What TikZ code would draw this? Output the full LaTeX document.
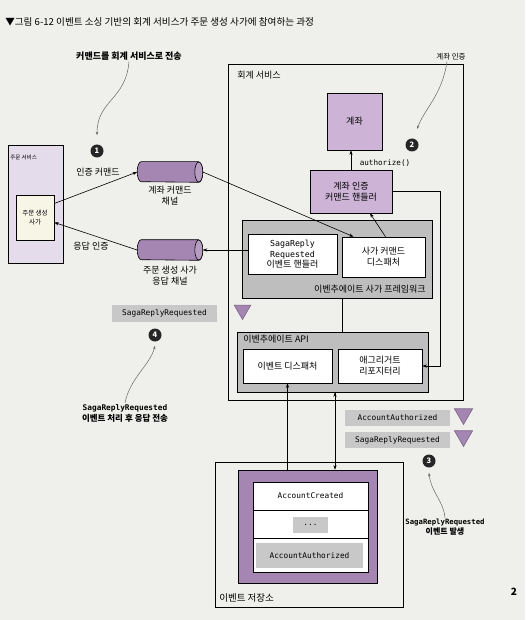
\documentclass[tikz,border=0pt]{standalone}
\usepackage{fontspec}
\setmainfont{Noto Sans CJK KR}
\setmonofont{DejaVu Sans Mono}
\usetikzlibrary{positioning,shapes.geometric,arrows.meta}
\definecolor{pagebg}{HTML}{EFEFEC}
\definecolor{lilac}{HTML}{CDB3D6}
\definecolor{plum}{HTML}{A585B2}
\definecolor{ashgrey}{HTML}{BEBEBE}
\definecolor{taggrey}{HTML}{C8C8C8}
\definecolor{ordfill}{HTML}{E4DCEB}
\definecolor{sagafill}{HTML}{F7F5E6}
\tikzset{box node/.style={rectangle, draw, inner sep=1pt, align=center, font=\fontsize{9}{11}\selectfont},
  purple node/.style={box node, fill=lilac},
  white node/.style={box node, fill=white},
  frame node/.style={rectangle, draw, fill=ashgrey, inner sep=0pt},
  tag node/.style={rectangle, fill=taggrey, inner sep=0pt, font=\ttfamily\fontsize{7.8}{8}\selectfont},
  chan node/.style={rectangle, minimum width=65pt, minimum height=20pt, inner sep=0pt},
  drop node/.style={regular polygon, regular polygon sides=3, shape border rotate=180, fill=plum, draw=plum!75!black, minimum size=21pt, inner sep=0pt},
  num node/.style={circle, fill=black!85, text=white, inner sep=0pt, minimum size=13pt, font=\bfseries\fontsize{7.5}{7.5}\selectfont},
  text node/.style={align=center, inner sep=1pt, font=\fontsize{9}{11}\selectfont},
  call/.style={draw=black!60, line width=0.5pt, -{Stealth[length=3.5pt,width=2.5pt]}},
}
\begin{document}
\begin{tikzpicture}[x=1pt, y=-1pt, ->, >={Stealth[length=4.5pt,width=3.2pt]}, line width=0.6pt]
        \fill[pagebg] (0,0) rectangle (525,620);
        \useasboundingbox (0,0) rectangle (525,620);
        % Title
        \node[anchor=west, inner sep=0pt, font=\fontsize{9.6}{11}\selectfont] (title) at (5,22) {▼그림 6-12 이벤트 소싱 기반의 회계 서비스가 주문 생성 사가에 참여하는 과정};
        % Order service
        \node[rectangle, draw, fill=ordfill, minimum width=55pt, minimum height=118pt] (ordersvc) at (35.5,204) {};
        \node[anchor=west, inner sep=0pt, font=\fontsize{5.5}{6}\selectfont] (ordlbl) at (10,157) {주문 서비스};
        \node[box node, fill=sagafill, minimum width=38pt, minimum height=45pt, font=\fontsize{6.5}{9}\selectfont] (saga) at (35,217.5) {주문 생성\\사가};
        % Channels
        \node[chan node] (cmdch) at (170,172) {};
        \node[text node, below=2pt of cmdch] (cmdlbl) {계좌 커맨드\\채널};
        \node[chan node] (replych) at (170,250) {};
        \node[text node, below=4pt of replych] (replylbl) {주문 생성 사가\\응답 채널};
        \foreach \ch in {cmdch,replych} {
          \draw[-, fill=plum] ([xshift=-4pt]\ch.north east) -- ([xshift=4pt]\ch.north west)
            arc[start angle=90, end angle=270, x radius=4pt, y radius=10pt]
            -- ([xshift=-4pt]\ch.south east)
            arc[start angle=270, end angle=450, x radius=4pt, y radius=10pt] -- cycle;
          \draw[-, fill=plum!80!white] ([xshift=-4pt]\ch.east) ellipse [x radius=4pt, y radius=10pt];
        }
        \node[text node] (authcmd) at (98,172) {인증 커맨드};
        \node[text node] (authreply) at (91,246) {응답 인증};
        % Accounting service
        \node[rectangle, draw, minimum width=235pt, minimum height=336pt] (acct) at (345.5,232) {};
        \node[text node, anchor=west] (acctlbl) at (236,75) {회계 서비스};
        \node[purple node, minimum width=55pt, minimum height=57pt] (account) at (354.5,121.5) {계좌};
        \node[purple node, minimum width=82pt, minimum height=43pt] (handler) at (351,191.5) {계좌 인증\\커맨드 핸들러};
        \node[text node, font=\ttfamily\fontsize{7.6}{8}\selectfont] (authz) at (385,163) {authorize()};
        \node[frame node, minimum width=190pt, minimum height=78pt] (framework) at (337,259) {};
        \node[text node, anchor=east] (fwlbl) at (427,289) {이벤추에이트 사가 프레임워크};
        \node[white node, minimum width=89pt, minimum height=40pt, font=\ttfamily\fontsize{8.3}{10.5}\selectfont] (srhandler) at (292.5,254.5) {SagaReply\\Requested\\\rmfamily\fontsize{9}{10.5}\selectfont 이벤트 핸들러};
        \node[white node, minimum width=83pt, minimum height=40pt] (dispatcher) at (383.5,257) {사가 커맨드\\디스패처};
        \node[frame node, minimum width=191pt, minimum height=60pt] (api) at (332.5,362) {};
        \node[text node, anchor=west] (apilbl) at (242,339) {이벤추에이트 API};
        \node[white node, minimum width=89pt, minimum height=34pt] (evdisp) at (287.5,366) {이벤트 디스패처};
        \node[white node, minimum width=84pt, minimum height=34pt] (repo) at (380,366) {애그리거트\\리포지터리};
        % Event tags
        \node[tag node, minimum width=105pt, minimum height=17pt] (srtag) at (164.5,313.5) {SagaReplyRequested};
        \node[drop node, minimum size=19pt] (drop1) at (242.5,310) {};
        \node[tag node, minimum width=105pt, minimum height=16pt] (aatag) at (397.5,417.5) {AccountAuthorized};
        \node[drop node] (drop2) at (463.5,414) {};
        \node[tag node, minimum width=105pt, minimum height=16pt] (srtag2) at (397.5,440) {SagaReplyRequested};
        \node[drop node] (drop3) at (463.5,436) {};
        % Event store
        \node[rectangle, draw, fill=pagebg, minimum width=188pt, minimum height=145pt] (store) at (309,534.5) {};
        \node[text node, anchor=west, font=\fontsize{9.5}{11}\selectfont] (storelbl) at (218,598) {이벤트 저장소};
        \node[rectangle, draw, fill=plum, minimum width=139pt, minimum height=113pt] (storein) at (307.5,526.5) {};
        \node[rectangle, draw, fill=white, minimum width=115pt, minimum height=90pt] (evlog) at (310.5,527) {};
        \draw[-] (253,510) -- (368,510);
        \draw[-] (253,538) -- (368,538);
        \node[text node, font=\ttfamily\fontsize{7.8}{8}\selectfont] (evcreated) at (310.5,496) {AccountCreated};
        \node[tag node, minimum width=35pt, minimum height=16pt] (evdots) at (310.5,525) {...};
        \node[tag node, minimum width=107pt, minimum height=25pt] (evauth) at (309.5,555.5) {AccountAuthorized};
        % Numbers and callouts
        \node[num node] (n1) at (97,151) {1};
        \node[num node] (n2) at (412,145) {2};
        \node[num node] (n3) at (429,461) {3};
        \node[num node] (n4) at (155,335) {4};
        \node[text node, font=\bfseries\fontsize{9}{10}\selectfont] (c1lbl) at (129,56) {커맨드를 회계 서비스로 전송};
        \node[text node, font=\fontsize{7.5}{8}\selectfont] (c2lbl) at (451,57) {계좌 인증};
        \node[text node, font=\bfseries\fontsize{8}{10}\selectfont] (c3lbl) at (445,527) {\ttfamily\fontsize{7.3}{10}\selectfont SagaReplyRequested\\이벤트 발생};
        \node[text node, font=\bfseries\fontsize{8.5}{11}\selectfont] (c4lbl) at (125,413) {\ttfamily\fontsize{7.8}{11}\selectfont SagaReplyRequested\\이벤트 처리 후 응답 전송};
        \node[font=\bfseries\fontsize{10}{10}\selectfont] (pageno) at (514,592) {2};
        % Paths
        \path[draw]
        ([yshift=14pt]saga.east) edge (cmdch.west)
        (cmdch.east) edge ([xshift=-30pt]dispatcher.north)
        ([xshift=2pt]dispatcher.north) edge ([xshift=19pt]handler.south)
        (handler.north) edge (handler.north |- account.south)
        (srhandler.west |- replych.east) edge (replych.east)
        (replych.west) edge ([yshift=-5pt]saga.east)
        ([xshift=5pt]framework.south) edge[-] ([xshift=5pt]framework.south |- api.north)
        (evdisp.south |- storein.north) edge (evdisp.south)
        ([xshift=2.5pt]api.south) edge ([xshift=2.5pt]api.south |- storein.north);
        \draw (handler.east) -- ++(48,0) |- (repo.east);
        \draw[call] (c1lbl.south) .. controls (126,100) and (97,100) .. ([yshift=9pt]n1.north);
        \draw[call] ([xshift=-4pt]c2lbl.south) .. controls (442,95) and (425,108) .. (417,129);
        \draw[call] (c3lbl.north) .. controls (443,500) and (431,492) .. ([yshift=-5pt]n3.south);
        \draw[call] (c4lbl.north) .. controls (130,378) and (150,365) .. ([yshift=-4pt]n4.south);
\end{tikzpicture}
\end{document}
